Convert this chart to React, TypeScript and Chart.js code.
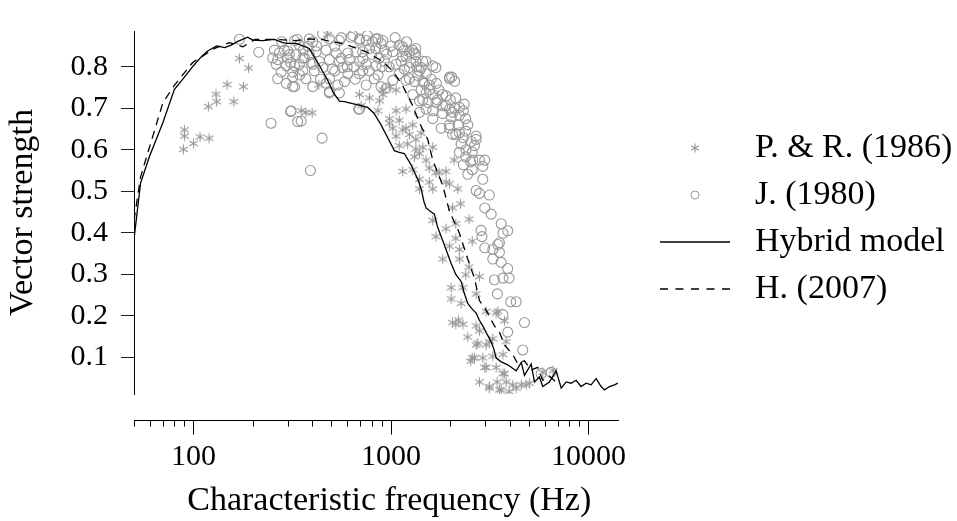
import React, { useEffect, useRef } from 'react';
import { Chart, registerables } from 'chart.js';

Chart.register(...registerables);

// ---- axis settings / tick values ----
const X_MIN = 50;
const X_MAX = 14280;
const Y_MIN = 0.012;
const Y_MAX = 0.886;
const X_TICKS = [50, 60, 70, 80, 90, 100, 200, 300, 400, 500, 600, 700, 800, 900, 1000, 2000, 3000, 4000, 5000, 6000, 7000, 8000, 9000, 10000];
const X_LABELED = [100, 1000, 10000];
const Y_TICKS = [0.1, 0.2, 0.3, 0.4, 0.5, 0.6, 0.7, 0.8];

const X_TITLE = 'Characteristic frequency (Hz)';
const Y_TITLE = 'Vector strength';
const LEGEND_LABELS = ['P. & R. (1986)', 'J. (1980)', 'Hybrid model', 'H. (2007)'];

// ---- data: [frequency Hz, vector strength] ----
const PR_1986: [number, number][] = [
  [90, 0.648], [90, 0.633], [89, 0.601], [100, 0.615], [108, 0.631], [120, 0.628], [119, 0.704], [131, 0.716],
  [130, 0.734], [148, 0.757], [160, 0.716], [179, 0.752], [171, 0.82], [190, 0.797],
  [351, 0.694], [371, 0.69], [399, 0.689], [431, 0.756], [478, 0.878],
  [693, 0.733], [778, 0.725], [876, 0.718], [982, 0.752], [707, 0.706], [859, 0.694], [909, 0.733], [1062, 0.744],
  [909, 0.744], [1062, 0.694], [1192, 0.698], [982, 0.664], [1101, 0.671], [1021, 0.652], [1062, 0.633], [1147, 0.648],
  [1240, 0.637], [1101, 0.61], [1214, 0.614], [1337, 0.625], [1422, 0.64], [1450, 0.606], [1628, 0.606], [1315, 0.583],
  [1394, 0.591], [1507, 0.575], [1147, 0.548], [1289, 0.552], [1564, 0.556], [1689, 0.545], [1900, 0.548], [1394, 0.529],
  [1564, 0.522], [1978, 0.518], [2088, 0.575], [982, 0.675], [1192, 0.652], [1289, 0.66], [1337, 0.602], [1752, 0.545],
  [1900, 0.522], [2179, 0.506], [1394, 0.506], [1628, 0.506], [2250, 0.47], [2050, 0.46],
  [1628, 0.43], [1900, 0.41], [2130, 0.422], [2485, 0.433], [2580, 0.38], [1689, 0.391], [1978, 0.368], [2130, 0.387],
  [2222, 0.36], [1829, 0.337], [2222, 0.337], [2485, 0.318], [2390, 0.299], [2806, 0.295], [2018, 0.268], [2314, 0.268],
  [2018, 0.241], [2267, 0.23], [2700, 0.253], [3034, 0.211], [3410, 0.207], [2130, 0.18], [2314, 0.18], [2700, 0.176],
  [2448, 0.149], [2806, 0.164], [2700, 0.13], [3034, 0.13], [3279, 0.145], [2580, 0.099], [2917, 0.099], [3279, 0.103],
  [3034, 0.076], [3410, 0.076], [3690, 0.061], [2806, 0.041], [3150, 0.026], [3543, 0.022], [3967, 0.018], [4138, 0.034],
  [4570, 0.034], [5028, 0.038], [5870, 0.064], [6620, 0.068], [3831, 0.041], [3450, 0.041],
  [2050, 0.184], [2200, 0.19], [2750, 0.134], [3150, 0.138], [2647, 0.099], [2532, 0.091], [2985, 0.076], [3755, 0.061],
  [3150, 0.03], [3615, 0.022], [4305, 0.026], [4837, 0.034], [3690, 0.107], [3831, 0.138], [3755, 0.188], [3480, 0.211],
];

const J_1980: [number, number][] = [
  [171, 0.866], [214, 0.835], [247, 0.664], [311, 0.692], [335, 0.866], [257, 0.84], [272, 0.833], [289, 0.84],
  [300, 0.838], [331, 0.829], [252, 0.821], [267, 0.817], [300, 0.821], [262, 0.806], [295, 0.802], [325, 0.802],
  [278, 0.787], [318, 0.787], [267, 0.771], [295, 0.76], [318, 0.752], [337, 0.668],
  [386, 0.867], [402, 0.86], [451, 0.879], [488, 0.867], [548, 0.863], [628, 0.871], [693, 0.867], [749, 0.863],
  [808, 0.86], [859, 0.867], [909, 0.863], [927, 0.84], [838, 0.844], [778, 0.844], [719, 0.836], [665, 0.836],
  [605, 0.833], [528, 0.833], [469, 0.84], [418, 0.836], [386, 0.829], [358, 0.821], [344, 0.806], [394, 0.81],
  [434, 0.813], [488, 0.817], [548, 0.813], [616, 0.817], [693, 0.813], [749, 0.806], [838, 0.802], [927, 0.813],
  [410, 0.79], [451, 0.798], [506, 0.794], [569, 0.798], [605, 0.783], [693, 0.783], [778, 0.79], [488, 0.771],
  [538, 0.756], [749, 0.756], [823, 0.771], [891, 0.752], [945, 0.748], [488, 0.737], [548, 0.737], [582, 0.764],
  [686, 0.698], [448, 0.628], [391, 0.55], [351, 0.669],
  [1021, 0.836], [1147, 0.848], [1240, 0.836], [1337, 0.844], [1450, 0.813], [1125, 0.813], [1240, 0.798], [1394, 0.79],
  [1101, 0.783], [1192, 0.767], [1315, 0.764], [1479, 0.76], [1422, 0.744], [1289, 0.733], [1450, 0.721], [1507, 0.698],
  [1394, 0.69], [1062, 0.806], [1021, 0.767],
  [1101, 0.852], [1169, 0.84], [1289, 0.84], [1337, 0.829], [1192, 0.825], [1507, 0.813], [1628, 0.802], [1422, 0.798],
  [1169, 0.794], [1507, 0.783], [1367, 0.779], [1240, 0.771], [1450, 0.764], [1564, 0.756], [1752, 0.744], [1978, 0.771],
  [2030, 0.775], [1507, 0.737], [1628, 0.733], [1829, 0.733], [2130, 0.725], [1394, 0.718], [1536, 0.714], [1689, 0.714],
  [1829, 0.706], [1978, 0.698], [2222, 0.702], [2325, 0.694], [1628, 0.694], [1829, 0.687], [2018, 0.679], [2222, 0.683],
  [2390, 0.675], [1628, 0.675], [1796, 0.652], [1978, 0.66], [2050, 0.637], [2222, 0.641], [2390, 0.645], [2325, 0.629],
  [2700, 0.633], [2267, 0.614], [2700, 0.625], [2222, 0.594], [2390, 0.583], [2580, 0.594], [2806, 0.575], [2532, 0.571],
  [2325, 0.564], [2580, 0.552], [2448, 0.541], [2917, 0.529], [2700, 0.502], [2806, 0.495], [3150, 0.491], [2985, 0.46],
  [3217, 0.445], [2985, 0.575], [2917, 0.56], [3615, 0.422], [3690, 0.399], [3900, 0.405], [2860, 0.406], [2890, 0.391],
  [3543, 0.376], [2985, 0.364], [3279, 0.36], [3480, 0.372], [3543, 0.353], [3279, 0.337], [3615, 0.329], [3900, 0.314],
  [3342, 0.287], [3690, 0.291], [3967, 0.291], [3460, 0.253], [4040, 0.234], [4305, 0.234], [3690, 0.203], [4743, 0.184],
  [3900, 0.161], [4650, 0.118], [5760, 0.061], [6460, 0.064],
  [325, 0.863], [344, 0.852], [306, 0.829], [365, 0.821], [402, 0.806], [358, 0.79], [318, 0.775], [371, 0.771],
  [402, 0.752], [325, 0.752], [312, 0.694], [488, 0.74], [693, 0.698], [641, 0.875], [693, 0.863], [838, 0.867],
  [891, 0.856], [1147, 0.825], [1315, 0.833], [1337, 0.813], [1689, 0.798], [1978, 0.775], [2100, 0.765], [1564, 0.744],
  [1900, 0.706], [2050, 0.69], [1978, 0.652], [2130, 0.637],
  [280, 0.86], [360, 0.84], [420, 0.85], [520, 0.85], [560, 0.82], [600, 0.8], [650, 0.8], [720, 0.82],
  [800, 0.83], [870, 0.82], [950, 0.83], [980, 0.8], [520, 0.79], [440, 0.77], [470, 0.76], [660, 0.77],
  [720, 0.79], [860, 0.78], [900, 0.8], [1000, 0.85], [380, 0.85], [310, 0.81], [345, 0.78], [560, 0.87],
  [760, 0.875], [1050, 0.87], [1200, 0.86], [1260, 0.81], [1350, 0.8], [1600, 0.77], [1700, 0.76], [1720, 0.72],
  [1900, 0.73], [2000, 0.72], [2100, 0.7], [2450, 0.66], [2550, 0.62], [2650, 0.61], [2400, 0.6], [2600, 0.575],
  [2200, 0.66], [2350, 0.71],
];

const HYBRID: [number, number][] = [
  [50, 0.385], [54, 0.52], [60, 0.585], [70, 0.665], [80, 0.745], [90, 0.775], [99, 0.8], [110, 0.825],
  [118, 0.838], [131, 0.85], [144, 0.846], [155, 0.852], [168, 0.861], [188, 0.871], [200, 0.864], [224, 0.863],
  [257, 0.866], [283, 0.858], [300, 0.856], [331, 0.856], [386, 0.844], [420, 0.815], [479, 0.767], [510, 0.738],
  [548, 0.717], [580, 0.716], [616, 0.713], [680, 0.708], [763, 0.702], [820, 0.688], [891, 0.66], [960, 0.63],
  [1041, 0.598], [1100, 0.594], [1169, 0.591], [1260, 0.565], [1367, 0.529], [1422, 0.506], [1470, 0.475], [1507, 0.46],
  [1580, 0.452], [1660, 0.445], [1720, 0.415], [1796, 0.391], [1900, 0.36], [2018, 0.326], [2130, 0.3], [2267, 0.283],
  [2350, 0.255], [2448, 0.23], [2560, 0.218], [2700, 0.207], [2800, 0.19], [2917, 0.176], [3050, 0.158], [3217, 0.138],
  [3320, 0.12], [3410, 0.099], [3600, 0.09], [3831, 0.084], [3967, 0.08], [4305, 0.068], [4570, 0.088], [4743, 0.057],
  [5128, 0.084], [5330, 0.041], [5640, 0.053], [5870, 0.03], [6345, 0.041], [6864, 0.068], [7280, 0.026], [7720, 0.041],
  [8174, 0.038], [8660, 0.045], [9170, 0.03], [9736, 0.038], [10310, 0.034], [10940, 0.049], [11590, 0.03], [12060, 0.022],
  [12790, 0.03], [13560, 0.034], [14075, 0.038],
];

const H_2007: [number, number][] = [
  [50, 0.43], [54, 0.535], [62, 0.63], [70, 0.713], [80, 0.755], [99, 0.81], [128, 0.844], [152, 0.858],
  [178, 0.848], [205, 0.866], [251, 0.866], [331, 0.863], [386, 0.867], [452, 0.865], [506, 0.86], [582, 0.855],
  [749, 0.836], [909, 0.812], [1021, 0.79], [1147, 0.754], [1289, 0.706], [1394, 0.665], [1536, 0.625], [1628, 0.575],
  [1829, 0.514], [1978, 0.452], [2222, 0.399], [2448, 0.337], [2647, 0.291], [2806, 0.237], [3034, 0.214], [3342, 0.176],
  [3543, 0.161], [3755, 0.13], [4138, 0.107], [4385, 0.085], [4743, 0.092], [5128, 0.07], [5538, 0.076], [5870, 0.045],
  [6345, 0.055], [6864, 0.04],
];

const MARK_COLOR = '#999999';

function asteriskCanvas(w: number, h: number, cx: number, cy: number, r: number) {
  const c = document.createElement('canvas');
  c.width = w;
  c.height = h;
  const g = c.getContext('2d')!;
  g.strokeStyle = MARK_COLOR;
  g.lineWidth = 1.1;
  g.beginPath();
  for (const a of [90, 30, 150]) {
    const rad = (a * Math.PI) / 180;
    const dx = Math.cos(rad) * r;
    const dy = Math.sin(rad) * r;
    g.moveTo(cx - dx, cy - dy);
    g.lineTo(cx + dx, cy + dy);
  }
  g.stroke();
  return c;
}

function circleCanvas(w: number, h: number, cx: number, cy: number, r: number) {
  const c = document.createElement('canvas');
  c.width = w;
  c.height = h;
  const g = c.getContext('2d')!;
  g.strokeStyle = MARK_COLOR;
  g.lineWidth = 1;
  g.beginPath();
  g.arc(cx, cy, r, 0, Math.PI * 2);
  g.stroke();
  return c;
}

function lineCanvas(w: number, h: number, x0: number, x1: number, dash: number[]) {
  const c = document.createElement('canvas');
  c.width = w;
  c.height = h;
  const g = c.getContext('2d')!;
  g.strokeStyle = '#000';
  g.lineWidth = 1.3;
  g.setLineDash(dash);
  g.beginPath();
  g.moveTo(x0, h / 2);
  g.lineTo(x1, h / 2);
  g.stroke();
  return c;
}

const offsetXAxis = {
  id: 'offsetXAxis',
  afterLayout(chart: any) {
    if (chart.legend) chart.legend.top = 118;
  },
  afterDraw(chart: any) {
    const xs = chart.scales.x;
    const ctx = chart.ctx;
    const y = chart.chartArea.bottom + 26.5;
    ctx.save();
    ctx.strokeStyle = '#000';
    ctx.lineWidth = 1;
    ctx.beginPath();
    ctx.moveTo(xs.left, y);
    ctx.lineTo(xs.right, y);
    for (const t of xs.ticks) {
      const px = Math.round(xs.getPixelForValue(t.value)) + 0.5;
      const len = X_LABELED.includes(t.value) ? 14 : 6;
      ctx.moveTo(px, y);
      ctx.lineTo(px, y + len);
    }
    ctx.stroke();
    ctx.restore();
  },
};

export default function App() {
  const ref = useRef<HTMLCanvasElement>(null);

  useEffect(() => {
    const canvas = ref.current;
    if (!canvas) return;
    Chart.defaults.font.family = "'Liberation Serif', serif";
    Chart.defaults.color = '#000';

    const starPoint = asteriskCanvas(13, 13, 6.5, 6.5, 5);
    const legendImgs = [
      asteriskCanvas(106, 12, 63, 6, 4.5),
      circleCanvas(106, 12, 63, 6, 4),
      lineCanvas(106, 4, 28, 98, []),
      lineCanvas(106, 4, 28, 98, [8, 7.5]),
    ];

    const toXY = (arr: [number, number][]) => arr.map(([x, y]) => ({ x, y }));

    const chart = new Chart(canvas, {
      type: 'scatter',
      data: {
        datasets: [
          {
            label: LEGEND_LABELS[0],
            data: toXY(PR_1986),
            pointStyle: starPoint as any,
            pointRadius: 5,
            showLine: false,
            order: 3,
          },
          {
            label: LEGEND_LABELS[1],
            data: toXY(J_1980),
            pointStyle: 'circle',
            pointRadius: 5,
            pointBackgroundColor: 'rgba(0,0,0,0)',
            pointBorderColor: MARK_COLOR,
            pointBorderWidth: 1.1,
            showLine: false,
            order: 2,
          },
          {
            label: LEGEND_LABELS[2],
            data: toXY(HYBRID),
            showLine: true,
            borderColor: '#000',
            borderWidth: 1.3,
            pointRadius: 0,
            tension: 0,
            order: 0,
          },
          {
            label: LEGEND_LABELS[3],
            data: toXY(H_2007),
            showLine: true,
            borderColor: '#000',
            borderWidth: 1.3,
            borderDash: [8, 6],
            pointRadius: 0,
            tension: 0,
            order: 1,
          },
        ],
      },
      options: {
        animation: false,
        responsive: false,
        events: [],
        layout: { padding: { top: 15, left: 0, right: 0, bottom: 0 } },
        scales: {
          x: {
            type: 'logarithmic',
            min: X_MIN,
            max: X_MAX,
            bounds: 'data',
            afterBuildTicks: (s: any) => {
              s.ticks = X_TICKS.map((v) => ({ value: v, major: X_LABELED.includes(v) }));
            },
            afterFit: (s: any) => {
              s.height = 127;
            },
            grid: { display: false, drawTicks: false },
            border: { display: false },
            ticks: {
              autoSkip: false,
              maxRotation: 0,
              minRotation: 0,
              padding: 45,
              color: '#000',
              font: { size: 30 },
              callback: (v: any) => (X_LABELED.includes(Number(v)) ? String(v) : ''),
            },
            title: {
              display: true,
              text: '   ' + X_TITLE,
              color: '#000',
              font: { size: 34 },
              padding: { top: 0, bottom: 0 },
            },
          },
          y: {
            type: 'linear',
            min: Y_MIN,
            max: Y_MAX,
            bounds: 'data',
            afterBuildTicks: (s: any) => {
              s.ticks = Y_TICKS.map((v) => ({ value: v }));
            },
            afterFit: (s: any) => {
              s.width = 134;
            },
            grid: { display: true, drawOnChartArea: false, drawTicks: true, tickLength: 13, color: '#222' },
            border: { display: true, color: '#000', width: 1 },
            ticks: {
              padding: 13,
              color: '#000',
              font: { size: 30 },
              callback: (v: any) => Number(v).toFixed(1),
            },
            title: {
              display: true,
              text: Y_TITLE,
              color: '#000',
              font: { size: 34 },
              padding: { top: 3, bottom: 0 },
            },
          },
        },
        plugins: {
          tooltip: { enabled: false },
          legend: {
            position: 'right',
            align: 'start',
            maxWidth: 338,
            labels: {
              usePointStyle: true,
              pointStyleWidth: 106,
              padding: 13,
              color: '#000',
              font: { size: 34 },
              generateLabels: () =>
                LEGEND_LABELS.map((text, i) => ({
                  text,
                  pointStyle: legendImgs[i] as any,
                  fillStyle: 'rgba(0,0,0,0)',
                  strokeStyle: 'rgba(0,0,0,0)',
                  lineWidth: 0,
                  hidden: false,
                  datasetIndex: i,
                  fontColor: '#000',
                })),
            },
          },
        },
      } as any,
      plugins: [offsetXAxis],
    });

    return () => chart.destroy();
  }, []);

  return (
    <div style={{ position: 'absolute', left: 0, top: 0, width: 957, height: 521 }}>
      <canvas ref={ref} width={957} height={521} style={{ width: 957, height: 521, display: 'block' }} />
    </div>
  );
}
